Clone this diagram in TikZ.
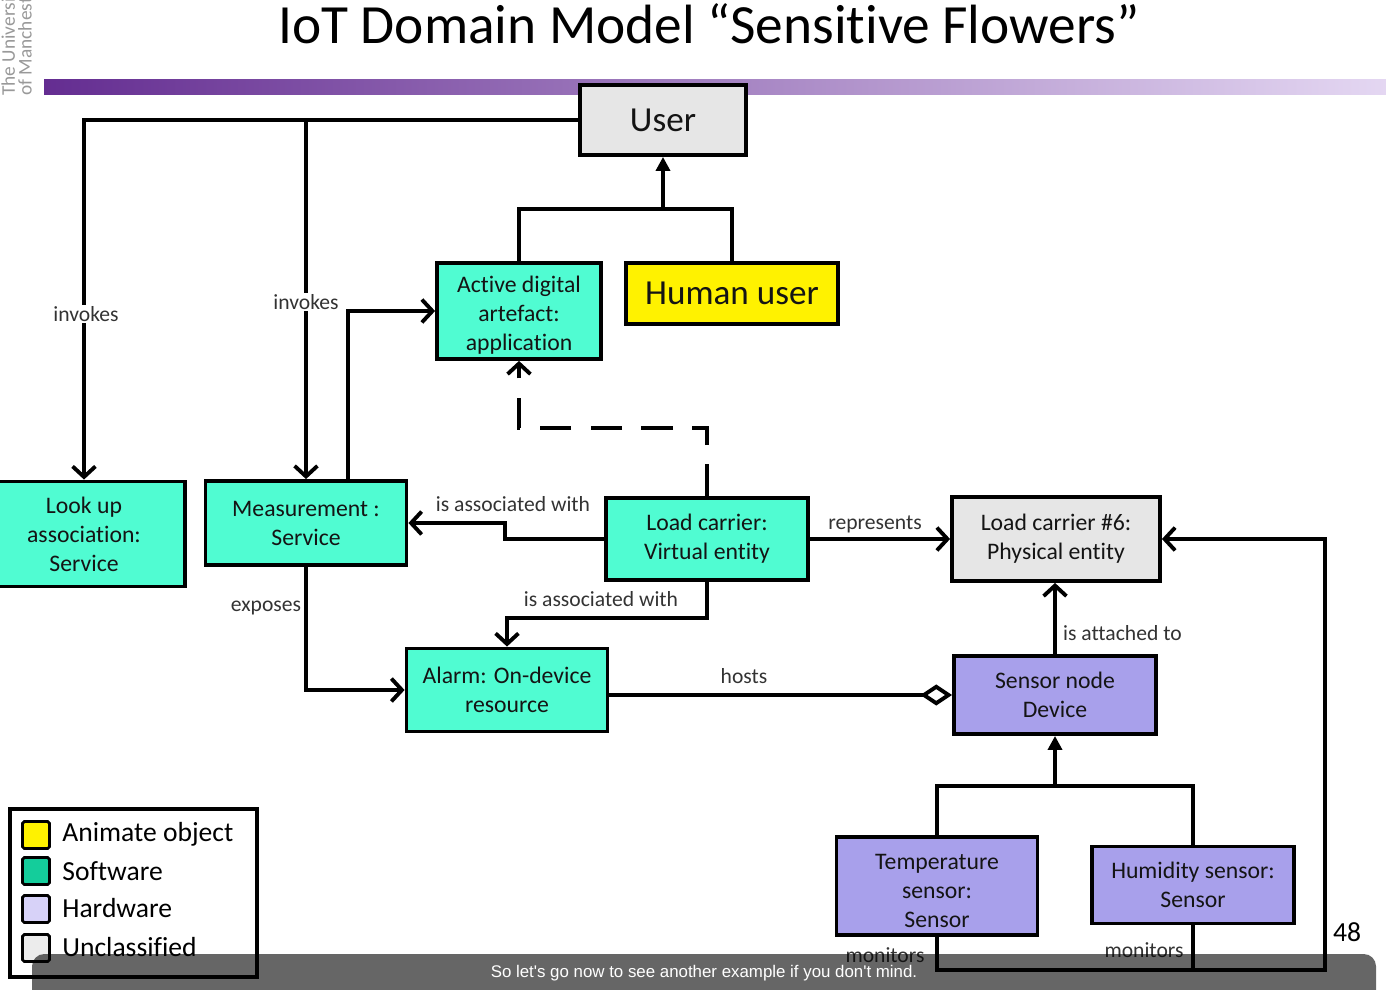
\documentclass[tikz,border=0pt]{standalone}
\usepackage{fontspec}
\setmainfont{Carlito}[Ligatures={NoCommon,NoRare}, Contextuals=NoAlternate]
\newfontfamily\capfont{Liberation Sans}
\usetikzlibrary{arrows.meta,calc}
\definecolor{swgreen}{RGB}{80,252,210}
\definecolor{hwviolet}{RGB}{168,160,235}
\definecolor{ucgray}{RGB}{230,230,230}
\definecolor{legsw}{RGB}{20,205,155}
\definecolor{leghw}{RGB}{215,210,248}
\definecolor{leguc}{RGB}{236,236,236}
\definecolor{barpurple}{RGB}{100,45,145}
\definecolor{barmid}{RGB}{172,125,198}
\definecolor{barlight}{RGB}{228,215,242}
\newdimen\pxu \pxu=0.02cm
\newcommand{\lowstrut}{\rule{0pt}{14pt}}

\tikzset{
  box/.style={draw, line width=2.2pt, align=center, inner sep=0pt, text=black!92,
    font=\fontsize{13.5}{16.5}\selectfont},
  software/.style={box, fill=swgreen},
  hardware/.style={box, fill=hwviolet},
  unclass/.style={box, fill=ucgray},
  lbl/.style={inner sep=1pt, text=black!80, font=\fontsize{12.3}{14}\selectfont},
  conn/.style={line width=2.2pt},
  arr/.style={conn, -{Straight Barb[length=6pt,width=13pt]}},
  gen/.style={conn, -{Triangle[length=8pt,width=8pt]}},
  hostlink/.style={conn, -{Diamond[open,length=18pt,width=12pt]}},
  legsq/.style={draw, line width=1.6pt, rounded corners=1pt, minimum size=27\pxu, inner sep=0pt},
  legtxt/.style={anchor=west, inner sep=0pt, font=\fontsize{15.7}{18}\selectfont},
}

\begin{document}
\begin{tikzpicture}[x=0.02cm, y=-0.02cm]
  \useasboundingbox (0,0) rectangle (1386,990);
  \clip (0,0) rectangle (1386,990);

  % header
  \begin{scope}
    \clip (0,0) rectangle (42,97);
    \node[rotate=90, anchor=north west, align=left, inner sep=0pt, text=black!40,
      font=\fontsize{11}{9.6}\selectfont] (logo) at (1,96) {The University\\of Manchester};
  \end{scope}
  \shade[left color=barpurple, middle color=barmid, right color=barlight] (44,80) rectangle (1386,95);
  \node[inner sep=0pt, anchor=base, font=\fontsize{31.5}{36}\selectfont] (title) at (709,44)
    {IoT Domain Model “Sensitive Flowers”};

  % entities
  \node[unclass, minimum width=166\pxu, minimum height=70\pxu, font=\fontsize{20}{24}\selectfont] (user) at (663,120) {User};
  \node[software, minimum width=164\pxu, minimum height=96\pxu] (active) at (519,311) {\lowstrut Active digital\\artefact:\\application};
  \node[box, fill=yellow, minimum width=212\pxu, minimum height=61\pxu, font=\fontsize{20}{24}\selectfont] (human) at (732,293.5) {Human user};
  \node[software, minimum width=202\pxu, minimum height=105\pxu] (lookup) at (84,534) {Look up\\association:\\Service};
  \node[software, minimum width=201\pxu, minimum height=84\pxu] (meas) at (306,523) {Measurement :\\Service};
  \node[software, minimum width=202\pxu, minimum height=82\pxu] (virt) at (707,539) {Load carrier:\\Virtual entity};
  \node[unclass, minimum width=208\pxu, minimum height=84\pxu] (phys) at (1056,539) {Load carrier \#6:\\Physical entity};
  \node[software, minimum width=201\pxu, minimum height=83\pxu] (alarm) at (507,690) {Alarm: On-device\\resource};
  \node[hardware, minimum width=202\pxu, minimum height=78\pxu] (snode) at (1055,695) {Sensor node\\Device};
  \node[hardware, minimum width=201\pxu, minimum height=98\pxu] (temp) at (937,886) {\lowstrut Temperature\\sensor:\\Sensor};
  \node[hardware, minimum width=202\pxu, minimum height=77\pxu] (hum) at (1193,885) {Humidity sensor:\\Sensor};

  % relations
  \coordinate (jA) at (306,120);
  \draw[conn] (user.west) -- (jA);
  \draw[arr] (jA) -| (lookup.north);
  \draw[arr] (jA) -- (meas.north);
  \node[lbl, fill=white] (inv1) at (86,314) {invokes};
  \node[lbl, fill=white] (inv2) at (306,302) {invokes};
  \draw[arr] ($(meas.north)+(42,0)$) |- (active.west);

  \coordinate (jU) at (663,209);
  \draw[conn] (active.north) |- (jU) -| (human.north);
  \draw[gen] (jU) -- (user.south);

  \draw[arr, dash pattern=on 18pt off 11pt] (virt.north) -- ++(0,-68) -| (active.south);
  \draw[arr] (virt.west) -- ++(-99,0) |- (meas.east);
  \node[lbl] (assoc1) at (513,504) {is associated with};
  \draw[arr] (virt.south) -- ++(0,36) -| (alarm.north);
  \node[lbl] (assoc2) at (601,599) {is associated with};
  \draw[arr] (virt.east) -- (phys.west);
  \node[lbl] (repr) at (875,524) {represents};

  \draw[arr] (meas.south) |- (alarm.west);
  \node[lbl] (expo) at (266,608) {exposes};
  \draw[hostlink] (alarm.east |- snode.west) -- (snode.west);
  \node[lbl] (hosts) at (744,676) {hosts};
  \draw[arr] (snode.north) -- (snode.north |- phys.south);
  \node[lbl, anchor=west] (attach) at (1061,633) {is attached to};

  \coordinate (jS) at (1055,786);
  \draw[conn] (temp.north) |- (jS) -| (hum.north);
  \draw[gen] (jS) -- (snode.south);

  \coordinate (jM) at (1325,970);
  \draw[arr] (temp.south) |- (jM) |- (phys.east);
  \draw[conn] (hum.south) -- (hum.south |- jM);
  \node[lbl] (mon1) at (885,955) {monitors};
  \node[lbl] (mon2) at (1144,950) {monitors};

  % legend
  \node[draw, line width=2pt, minimum width=247\pxu, minimum height=168\pxu, inner sep=0pt] (legend) at (133.5,893) {};
  \node[legsq, fill=yellow] (sq1) at (36,835) {};
  \node[legtxt] (lg1) at (62,834) {Animate object};
  \node[legsq, fill=legsw] (sq2) at (36,871) {};
  \node[legtxt] (lg2) at (62,871) {Software};
  \node[legsq, fill=leghw] (sq3) at (36,909) {};
  \node[legtxt] (lg3) at (62,908) {Hardware};
  \node[legsq, fill=leguc] (sq4) at (36,948) {};
  \node[legtxt] (lg4) at (62,947) {Unclassified};

  \node[font=\fontsize{15.7}{18}\selectfont] (page) at (1347,932) {48};

  % subtitle bar
  \fill[black, fill opacity=0.6, rounded corners=7pt] (32,954) rectangle (1376,1012);
  \node[text=white, font=\capfont\fontsize{9.6}{11}\selectfont] (capt) at (704,973)
    {So let's go now to see another example if you don't mind.};
\end{tikzpicture}
\end{document}
